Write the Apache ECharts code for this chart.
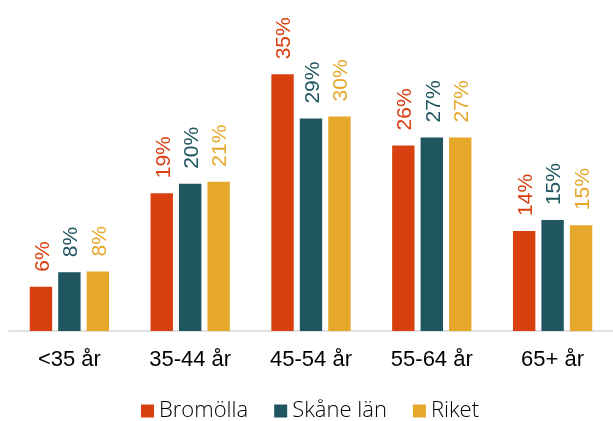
<!DOCTYPE html>
<html>
<head>
<meta charset="utf-8">
<script src="https://cdn.jsdelivr.net/npm/echarts@6/dist/echarts.min.js"></script>
<style>
  html, body { margin: 0; padding: 0; background: #fff; }
  #chart { width: 613px; height: 421px; }
</style>
</head>
<body>
<div id="chart"></div>
<script>
// age groups
const categories = ['<35 år', '35-44 år', '45-54 år', '55-64 år', '65+ år'];
// share per group, percent
const bromolla = [6.1, 19.0, 35.4, 25.6, 13.8];
const skane = [8.1, 20.3, 29.3, 26.7, 15.3];
const riket = [8.2, 20.6, 29.6, 26.7, 14.6];

const colors = ['#D9400F', '#1F5660', '#E5A82B'];

const chart = echarts.init(document.getElementById('chart'));

const makeSeries = (name, data, color) => ({
  name,
  type: 'bar',
  data,
  barWidth: 22.4,
  barGap: '27%',
  itemStyle: { color },
  label: {
    show: true,
    position: 'top',
    rotate: 90,
    align: 'left',
    verticalAlign: 'middle',
    distance: 15,
    offset: [0, 2],
    color,
    fontSize: 21,
    fontFamily: 'Liberation Sans',
    formatter: (p) => Math.round(p.value) + '%'
  }
});

chart.setOption({
  animation: false,
  grid: {
    left: 9,
    top: 41,
    width: 610,
    height: 290
  },
  legend: {
    left: 141,
    top: 400,
    padding: 0,
    icon: 'rect',
    itemWidth: 13,
    itemHeight: 13,
    itemGap: 26,
    textStyle: {
      fontSize: 22,
      fontFamily: 'Open Sans',
      fontWeight: 300,
      color: '#000'
    },
    data: ['Bromölla', 'Skåne län', 'Riket']
  },
  xAxis: {
    type: 'category',
    data: categories,
    axisTick: { show: false },
    axisLine: { lineStyle: { color: '#D9D9D9', width: 1.5 } },
    axisLabel: {
      color: '#000',
      fontSize: 22,
      fontFamily: 'Liberation Sans',
      margin: 18
    }
  },
  yAxis: {
    type: 'value',
    show: false,
    min: 0,
    max: 40,
    splitLine: { show: false }
  },
  series: [
    makeSeries('Bromölla', bromolla, colors[0]),
    makeSeries('Skåne län', skane, colors[1]),
    makeSeries('Riket', riket, colors[2])
  ]
});
</script>
</body>
</html>
